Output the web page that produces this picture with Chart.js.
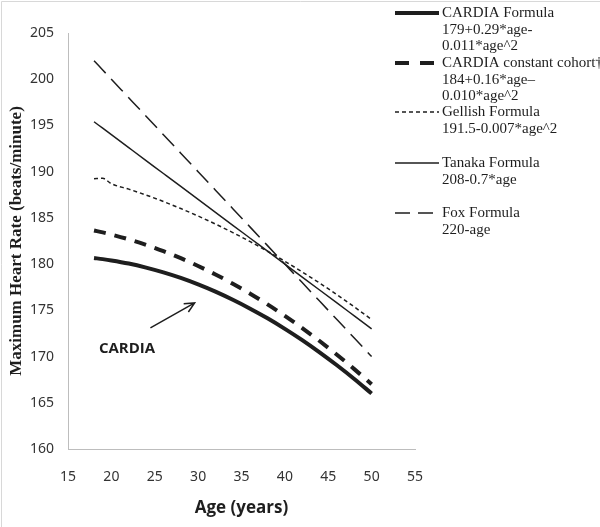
<!DOCTYPE html>
<html>
<head>
<meta charset="utf-8">
<script src="https://cdn.jsdelivr.net/npm/chart.js@4/dist/chart.umd.min.js"></script>
<style>
    html, body { margin: 0; padding: 0; background: #fff; }
    #wrap { width: 600px; height: 527px; }
</style>
</head>
<body>
<div id="wrap"><canvas id="hrChart" width="600" height="527"></canvas></div>
<script>
// Werte
const ages = [18, 19, 20, 22, 24, 26, 28, 30, 32, 34, 36, 38, 40, 42, 44, 46, 48, 50];
const cardia = [180.66, 180.54, 180.40, 180.06, 179.62, 179.10, 178.50, 177.80, 177.02, 176.14, 175.18, 174.14, 173.00, 171.78, 170.46, 169.06, 167.58, 166.00];
const cardiaConstant = [183.64, 183.43, 183.20, 182.68, 182.08, 181.40, 180.64, 179.80, 178.88, 177.88, 176.80, 175.64, 174.40, 173.08, 171.68, 170.20, 168.64, 167.00];
const gellish = [189.23, 189.28, 188.70, 188.11, 187.47, 186.77, 186.01, 185.20, 184.33, 183.41, 182.43, 181.39, 180.30, 179.15, 177.95, 176.69, 175.37, 174.00];
const tanaka = [195.4, 194.7, 194.0, 192.6, 191.2, 189.8, 188.4, 187.0, 185.6, 184.2, 182.8, 181.4, 180.0, 178.6, 177.2, 175.8, 174.4, 173.0];
const fox = [202, 201, 200, 198, 196, 194, 192, 190, 188, 186, 184, 182, 180, 178, 176, 174, 172, 170];

const legendLabels = [
    ["CARDIA Formula", "179+0.29*age-", "0.011*age^2"],
    ["CARDIA constant cohort\u2020", "184+0.16*age\u2013", "0.010*age^2"],
    ["Gellish Formula", "191.5-0.007*age^2"],
    ["Tanaka Formula", "208-0.7*age"],
    ["Fox Formula", "220-age"]
];

// Pfeil + Beschriftung in Datenkoordinaten
const annotationText = "CARDIA";
const annotationPos = { x: 21.8, y: 170.8 };
const arrowFrom = { x: 24.5, y: 173.1 };
const arrowTo = { x: 29.6, y: 175.8 };

const ink = '#1e1e1e';

function toPoints(values) {
    return values.map((v, i) => ({ x: ages[i], y: v }));
}

const legendPlugin = {
    id: 'sideLegend',
    afterDraw(chart) {
        const ctx = chart.ctx;
        const tops = [13, 63, 112, 163, 213];
        const lineGap = 16.6;
        ctx.save();
        chart.data.datasets.forEach((ds, i) => {
            const y = tops[i];
            ctx.strokeStyle = ds.borderColor;
            ctx.lineWidth = ds.borderWidth;
            ctx.setLineDash(ds.legendDash || ds.borderDash || []);
            ctx.beginPath();
            ctx.moveTo(395, y);
            ctx.lineTo(439, y);
            ctx.stroke();
            ctx.setLineDash([]);
            ctx.fillStyle = ink;
            ctx.font = '15px "Liberation Serif"';
            ctx.textBaseline = 'middle';
            ctx.textAlign = 'left';
            legendLabels[i].forEach((t, j) => {
                ctx.fillText(t, 442, y + j * lineGap);
            });
        });
        ctx.restore();
    }
};

const annotationPlugin = {
    id: 'cardiaArrow',
    afterDatasetsDraw(chart) {
        const ctx = chart.ctx;
        const xs = chart.scales.x, ys = chart.scales.y;
        const x1 = xs.getPixelForValue(arrowFrom.x), y1 = ys.getPixelForValue(arrowFrom.y);
        const x2 = xs.getPixelForValue(arrowTo.x), y2 = ys.getPixelForValue(arrowTo.y);
        ctx.save();
        ctx.strokeStyle = ink;
        ctx.lineWidth = 1.5;
        ctx.beginPath();
        ctx.moveTo(x1, y1);
        ctx.lineTo(x2, y2);
        const ang = Math.atan2(y2 - y1, x2 - x1);
        const len = 11;
        ctx.moveTo(x2 - len * Math.cos(ang - 0.45), y2 - len * Math.sin(ang - 0.45));
        ctx.lineTo(x2, y2);
        ctx.lineTo(x2 - len * Math.cos(ang + 0.45), y2 - len * Math.sin(ang + 0.45));
        ctx.stroke();
        ctx.fillStyle = ink;
        ctx.font = 'bold 15px "Open Sans"';
        ctx.textAlign = 'center';
        ctx.textBaseline = 'middle';
        ctx.fillText(annotationText, xs.getPixelForValue(annotationPos.x), ys.getPixelForValue(annotationPos.y));
        ctx.restore();
    }
};

const framePlugin = {
    id: 'frame',
    beforeDraw(chart) {
        const ctx = chart.ctx;
        ctx.save();
        ctx.fillStyle = '#fff';
        ctx.fillRect(0, 0, chart.width, chart.height);
        ctx.strokeStyle = '#d8d8d8';
        ctx.lineWidth = 1;
        ctx.beginPath();
        ctx.moveTo(1.5, chart.height);
        ctx.lineTo(1.5, 1.5);
        ctx.lineTo(chart.width, 1.5);
        ctx.stroke();
        ctx.restore();
    }
};

const ctx = document.getElementById('hrChart').getContext('2d');
new Chart(ctx, {
    type: 'line',
    data: {
        datasets: [
            { label: 'CARDIA Formula', data: toPoints(cardia), borderColor: ink, borderWidth: 4, borderDash: [] },
            { label: 'CARDIA constant cohort', data: toPoints(cardiaConstant), borderColor: ink, borderWidth: 4, borderDash: [12, 9], legendDash: [14, 11] },
            { label: 'Gellish Formula', data: toPoints(gellish), borderColor: ink, borderWidth: 1.5, borderDash: [4, 3] },
            { label: 'Tanaka Formula', data: toPoints(tanaka), borderColor: ink, borderWidth: 1.5, borderDash: [] },
            { label: 'Fox Formula', data: toPoints(fox), borderColor: ink, borderWidth: 1.5, borderDash: [17, 8], legendDash: [15, 8] }
        ]
    },
    options: {
        responsive: false,
        animation: false,
        devicePixelRatio: 1,
        layout: { padding: { top: 33, right: 185, bottom: 0, left: 0 } },
        elements: {
            point: { radius: 0, hoverRadius: 0 },
            line: { cubicInterpolationMode: 'monotone', borderCapStyle: 'butt' }
        },
        plugins: {
            legend: { display: false },
            tooltip: { enabled: false }
        },
        scales: {
            x: {
                type: 'linear',
                min: 15,
                max: 55,
                afterFit: scale => { scale.height = 78; },
                grid: { display: false, drawTicks: false },
                border: { display: true, color: '#bdbdbd', width: 1 },
                ticks: { stepSize: 5, padding: 20, color: '#333', font: { family: 'Noto Sans', size: 14 } },
                title: {
                    display: true,
                    text: 'Age (years)',
                    color: ink,
                    padding: { top: 0, bottom: 9 },
                    font: { family: 'Open Sans', size: 17, weight: 'bold' }
                }
            },
            y: {
                min: 160,
                max: 205,
                afterFit: scale => { scale.width = 68; },
                grid: { display: false, drawTicks: false },
                border: { display: true, color: '#bdbdbd', width: 1 },
                ticks: { stepSize: 5, padding: 14, color: '#333', font: { family: 'Noto Sans', size: 14 } },
                title: {
                    display: true,
                    text: 'Maximum Heart Rate (beats/minute)',
                    color: ink,
                    padding: { top: 6, bottom: 0 },
                    font: { family: 'Liberation Serif', size: 17, weight: 'bold' }
                }
            }
        }
    },
    plugins: [framePlugin, legendPlugin, annotationPlugin]
});
</script>
</body>
</html>
